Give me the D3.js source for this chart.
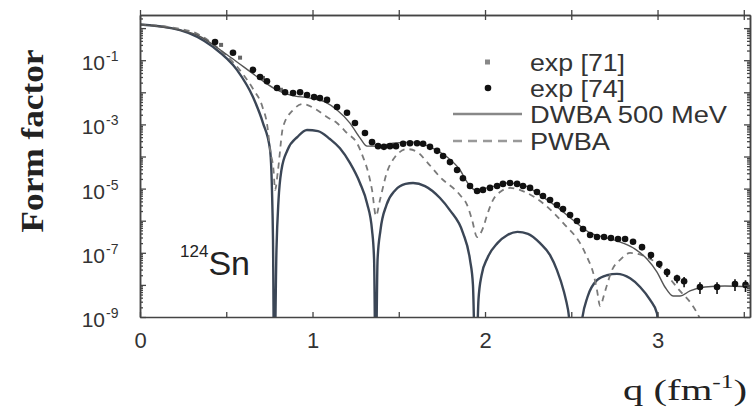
<!DOCTYPE html>
<html>
<head>
<meta charset="utf-8">
<script src="https://cdn.jsdelivr.net/npm/d3@7"></script>
<style>
  body { margin: 0; background: #fff; }
  svg { display: block; }
</style>
</head>
<body>
<div id="chart"></div>
<script>
// ---- values: [q (fm^-1), form factor] ----
const exp71 = [[0.470, 0.30], [0.580, 0.12], [0.713, 2.8e-2], [0.817, 1.2e-2]];

// third entry = relative error (only where error bars are visible)
const exp74 = [
  [0.435, 0.37], [0.539, 0.17], [0.655, 5.0e-2], [0.696, 3.0e-2], [0.736, 2.2e-2], [0.794, 1.36e-2],
  [0.841, 1.0e-2], [0.887, 9.5e-3], [0.928, 1.0e-2], [0.968, 8.2e-3], [1.009, 7.1e-3], [1.043, 6.6e-3],
  [1.084, 5.8e-3], [1.142, 3.5e-3], [1.200, 2.3e-3], [1.246, 1.1e-3], [1.304, 5.4e-4], [1.345, 2.8e-4],
  [1.380, 2.1e-4], [1.414, 2.0e-4], [1.449, 2.1e-4], [1.484, 2.1e-4], [1.525, 2.5e-4], [1.565, 2.6e-4],
  [1.606, 2.6e-4], [1.641, 2.5e-4], [1.681, 2.0e-4], [1.722, 1.5e-4], [1.757, 1.04e-4], [1.797, 6.7e-5],
  [1.838, 3.8e-5], [1.872, 2.1e-5], [1.913, 1.2e-5], [1.954, 8.4e-6], [1.988, 9.1e-6], [2.029, 1.05e-5],
  [2.070, 1.2e-5], [2.104, 1.4e-5], [2.145, 1.5e-5], [2.186, 1.4e-5], [2.220, 1.2e-5], [2.261, 1.05e-5],
  [2.301, 7.8e-6], [2.336, 5.9e-6], [2.377, 4.4e-6], [2.417, 3.1e-6], [2.452, 2.3e-6], [2.493, 1.5e-6],
  [2.533, 9.8e-7], [2.568, 5.5e-7], [2.609, 3.6e-7], [2.649, 3.1e-7], [2.690, 3.1e-7], [2.730, 2.9e-7],
  [2.771, 2.7e-7], [2.812, 2.7e-7], [2.858, 2.2e-7], [2.910, 1.5e-7, 0.2], [2.962, 8.5e-8, 0.25],
  [3.010, 4.5e-8, 0.25], [3.055, 2.5e-8, 0.3], [3.113, 1.6e-8, 0.3], [3.154, 1.3e-8, 0.35],
  [3.246, 8.6e-9, 0.4], [3.345, 8.6e-9, 0.4], [3.449, 1.07e-8, 0.4], [3.510, 1.0e-8, 0.4]
];

const dwba = [
  [0, 1.3], [0.174, 1.0], [0.330, 0.61], [0.522, 0.126], [0.681, 3.0e-2], [0.774, 1.36e-2],
  [0.872, 8.2e-3], [0.986, 6.6e-3], [1.072, 5.0e-3], [1.142, 2.8e-3], [1.217, 1.1e-3], [1.275, 3.8e-4],
  [1.316, 2.1e-4], [1.374, 2.1e-4], [1.467, 2.6e-4], [1.583, 2.8e-4], [1.681, 2.0e-4], [1.780, 9.6e-5],
  [1.855, 3.8e-5], [1.896, 1.6e-5], [1.942, 9.1e-6], [2.029, 1.1e-5], [2.128, 1.5e-5], [2.220, 1.3e-5],
  [2.319, 6.3e-6], [2.417, 2.7e-6], [2.510, 1.05e-6], [2.609, 4.2e-7], [2.707, 2.9e-7], [2.800, 2.0e-7],
  [2.870, 1.3e-7], [2.939, 6.4e-8], [2.997, 2.5e-8], [3.043, 8.6e-9], [3.090, 4.5e-9], [3.130, 4.5e-9],
  [3.188, 6.5e-9], [3.275, 8.6e-9], [3.391, 9.2e-9], [3.536, 8.6e-9]
];

const pwba = [
  [0, 1.3], [0.290, 0.81], [0.464, 0.21], [0.600, 3.5e-2], [0.658, 1.2e-2], [0.710, 3.5e-3],
  [0.739, 8.3e-4], [0.754, 1.6e-4], [0.774, 3.8e-5], [0.783, 9.1e-6], [0.800, 3.8e-5], [0.829, 8.3e-4],
  [0.887, 2.8e-3], [0.945, 4.3e-3], [1.026, 2.8e-3], [1.084, 1.7e-3], [1.142, 1.1e-3], [1.200, 5.4e-4],
  [1.258, 2.6e-4], [1.293, 9.6e-5], [1.322, 3.3e-5], [1.345, 9.1e-6], [1.368, 1.4e-6], [1.391, 4.4e-6],
  [1.432, 3.3e-5], [1.478, 9.6e-5], [1.548, 1.7e-4], [1.606, 1.4e-4], [1.664, 6.7e-5], [1.739, 2.3e-5],
  [1.855, 6.3e-6], [1.896, 3.1e-6], [1.925, 1.05e-6], [1.954, 3.1e-7], [1.988, 5.9e-7], [2.012, 1.5e-6],
  [2.046, 4.4e-6], [2.087, 7.8e-6], [2.145, 1.05e-5], [2.232, 7.8e-6], [2.348, 3.1e-6], [2.464, 7.3e-7],
  [2.551, 2.0e-7], [2.591, 7.4e-8], [2.626, 2.5e-8], [2.649, 6.9e-9], [2.667, 2.2e-9], [2.690, 4.9e-9],
  [2.707, 1.0e-8], [2.736, 2.9e-8], [2.783, 6.0e-8], [2.841, 9.9e-8], [2.910, 8.5e-8], [2.986, 5.1e-8],
  [3.055, 2.0e-8], [3.130, 6.5e-9], [3.200, 2.4e-9], [3.246, 9e-10], [3.275, 4e-10]
];

// dark curve with true diffraction zeros (not in the legend)
const zerosCurve = [
  [0, 1.3], [0.232, 0.87], [0.423, 0.26], [0.562, 5.0e-2], [0.655, 7.1e-3], [0.713, 1.1e-3],
  [0.754, 1.6e-4], [0.765, 9.1e-6], [0.771, 2.5e-7], [0.778, 1e-11],
  [0.791, 1.2e-7], [0.803, 4.4e-6], [0.820, 3.8e-5], [0.855, 1.6e-4], [0.913, 4.1e-4], [0.968, 6.7e-4],
  [1.032, 6.2e-4], [1.101, 3.5e-4], [1.159, 1.8e-4], [1.217, 6.3e-5], [1.275, 1.5e-5], [1.316, 3.5e-6],
  [1.345, 5.1e-7], [1.357, 6.0e-8], [1.366, 1e-11],
  [1.377, 6.0e-8], [1.394, 5.1e-7], [1.429, 3.1e-6], [1.481, 9.1e-6], [1.539, 1.4e-5], [1.583, 1.5e-5],
  [1.652, 1.2e-5], [1.739, 5.1e-6], [1.797, 2.1e-6], [1.872, 4.2e-7], [1.913, 6.0e-8], [1.930, 1.0e-8],
  [1.946, 1e-11],
  [1.962, 3.4e-9], [1.980, 2.0e-8], [2.014, 6.9e-8], [2.072, 2.0e-7], [2.130, 3.6e-7], [2.188, 4.5e-7],
  [2.249, 3.9e-7], [2.319, 2.0e-7], [2.377, 8.5e-8], [2.417, 2.9e-8], [2.458, 6.0e-9], [2.481, 1.7e-9],
  [2.530, 1e-11],
  [2.565, 1.0e-9], [2.594, 4.2e-9], [2.649, 1.4e-8], [2.707, 2.0e-8], [2.765, 2.2e-8], [2.841, 1.6e-8],
  [2.899, 8.6e-9], [2.957, 3.4e-9], [2.997, 1.3e-9], [3.010, 1e-11]
];

const xTickValues = [0, 0.5, 1, 1.5, 2, 2.5, 3, 3.5];
const xTickLabels = [0, 1, 2, 3];
const yLabelPowers = [-1, -3, -5, -7, -9];
const legendLabels = ["exp [71]", "exp [74]", "DWBA 500 MeV", "PWBA"];

// ---- layout ----
const W = 753, H = 414;
const margin = { top: 15, right: 3, bottom: 97, left: 140 };
const width = W - margin.left - margin.right;
const height = H - margin.top - margin.bottom;
const frameColor = "#444";
const sans = "'Liberation Sans', Arial, sans-serif";
const serif = "'Liberation Serif', 'Times New Roman', serif";

const svg = d3.select("#chart").append("svg")
    .attr("width", W)
    .attr("height", H)
    .style("background", "#fff");

const g = svg.append("g")
    .attr("transform", `translate(${margin.left},${margin.top})`);

// scales
const x = d3.scaleLinear().domain([0, 3.536]).range([0, width]);
const y = d3.scaleLog().domain([1e-9, 2.56]).range([height, 0]);

const allTicks = y.ticks();
const majorTicks = allTicks.filter(v => Math.abs(Math.log10(v) - Math.round(Math.log10(v))) < 1e-6);
const minorTicks = allTicks.filter(v => !majorTicks.includes(v));

// clip for the curves
svg.append("defs").append("clipPath").attr("id", "plotClip")
  .append("rect").attr("width", width).attr("height", height);

const plot = g.append("g").attr("clip-path", "url(#plotClip)");

const line = d3.line()
    .x(d => x(d[0]))
    .y(d => y(d[1]))
    .curve(d3.curveMonotoneX);

// dark curve with zeros
plot.append("path")
    .datum(zerosCurve)
    .attr("d", line)
    .attr("fill", "none")
    .attr("stroke", "#3b4656")
    .attr("stroke-width", 2.4);

// PWBA dashed
plot.append("path")
    .datum(pwba)
    .attr("d", line)
    .attr("fill", "none")
    .attr("stroke", "#7a7a7a")
    .attr("stroke-width", 1.8)
    .attr("stroke-dasharray", "6,5");

// DWBA thin solid
plot.append("path")
    .datum(dwba)
    .attr("d", line)
    .attr("fill", "none")
    .attr("stroke", "#555")
    .attr("stroke-width", 1.4);

// exp [71] squares
plot.selectAll(".sq")
    .data(exp71)
    .enter().append("rect")
    .attr("class", "sq")
    .attr("x", d => x(d[0]) - 2)
    .attr("y", d => y(d[1]) - 2)
    .attr("width", 4)
    .attr("height", 4)
    .attr("fill", "#666");

// exp [74] error bars + dots
plot.selectAll(".err")
    .data(exp74.filter(d => d[2]))
    .enter().append("line")
    .attr("class", "err")
    .attr("x1", d => x(d[0]))
    .attr("x2", d => x(d[0]))
    .attr("y1", d => y(d[1] * (1 + d[2])))
    .attr("y2", d => y(d[1] * (1 - d[2])))
    .attr("stroke", "#111")
    .attr("stroke-width", 1.6);

plot.selectAll(".dot")
    .data(exp74)
    .enter().append("circle")
    .attr("class", "dot")
    .attr("cx", d => x(d[0]))
    .attr("cy", d => y(d[1]))
    .attr("r", 3.3)
    .attr("fill", "#111");

// ---- axes / frame ----
function styleAxis(sel) {
    sel.selectAll("path.domain").attr("stroke", frameColor).attr("stroke-width", 1.5);
    sel.selectAll(".tick line").attr("stroke", frameColor).attr("stroke-width", 1.3);
}

// bottom: inward ticks
g.append("g")
    .attr("transform", `translate(0,${height})`)
    .call(d3.axisTop(x).tickValues(xTickValues).tickSize(5).tickSizeOuter(0).tickFormat(""))
    .call(styleAxis);

// bottom labels
g.append("g")
    .attr("transform", `translate(0,${height})`)
    .call(d3.axisBottom(x).tickValues(xTickLabels).tickSize(0).tickPadding(15).tickFormat(d3.format("d")))
    .call(sel => sel.select("path.domain").remove())
    .call(sel => sel.selectAll("text")
        .attr("fill", "#333")
        .style("font-family", sans)
        .style("font-size", "22px"));

// top: ticks crossing the line
g.append("g")
    .call(d3.axisTop(x).tickValues(xTickValues).tickSize(5).tickSizeOuter(0).tickFormat(""))
    .call(styleAxis);
g.append("g")
    .call(d3.axisBottom(x).tickValues(xTickValues).tickSize(5).tickSizeOuter(0).tickFormat(""))
    .call(styleAxis);

// left: inward ticks
g.append("g")
    .call(d3.axisRight(y).tickValues(majorTicks).tickSize(6).tickSizeOuter(0).tickFormat(""))
    .call(styleAxis);
g.append("g")
    .call(d3.axisRight(y).tickValues(minorTicks).tickSize(3).tickSizeOuter(0).tickFormat(""))
    .call(styleAxis);

// right: inward ticks
g.append("g")
    .attr("transform", `translate(${width},0)`)
    .call(d3.axisLeft(y).tickValues(majorTicks).tickSize(6).tickSizeOuter(0).tickFormat(""))
    .call(styleAxis);
g.append("g")
    .attr("transform", `translate(${width},0)`)
    .call(d3.axisLeft(y).tickValues(minorTicks).tickSize(3).tickSizeOuter(0).tickFormat(""))
    .call(styleAxis);

// y labels as 10^n
yLabelPowers.forEach(p => {
    const yy = margin.top + y(Math.pow(10, p));
    svg.append("text")
        .attr("x", 105)
        .attr("y", yy + 10)
        .attr("text-anchor", "end")
        .attr("fill", "#333")
        .style("font-family", sans)
        .style("font-size", "21px")
        .text("10");
    svg.append("text")
        .attr("x", 106)
        .attr("y", yy + 1)
        .attr("fill", "#333")
        .style("font-family", sans)
        .style("font-size", "14px")
        .text(`-${-p}`);
});

// axis titles
svg.append("text")
    .attr("transform", "translate(43,141) rotate(-90)")
    .attr("text-anchor", "middle")
    .attr("fill", "#222")
    .attr("textLength", 183)
    .attr("lengthAdjust", "spacingAndGlyphs")
    .style("font-family", serif)
    .style("font-weight", "bold")
    .style("font-size", "32px")
    .text("Form factor");

const xTitle = svg.append("text")
    .attr("x", 623)
    .attr("y", 400)
    .attr("fill", "#222")
    .attr("textLength", 124)
    .attr("lengthAdjust", "spacingAndGlyphs")
    .style("font-family", serif)
    .style("font-size", "29px");
xTitle.append("tspan").text("q (fm");
xTitle.append("tspan").attr("dy", -12).style("font-size", "18px").text("-1");
xTitle.append("tspan").attr("dy", 12).text(")");

// nucleus label
const nuc = svg.append("text")
    .attr("x", 180)
    .attr("y", 275)
    .attr("fill", "#222")
    .style("font-family", sans);
nuc.append("tspan").attr("dy", -18).style("font-size", "17px").text("124");
nuc.append("tspan").attr("dy", 18).style("font-size", "34px").text("Sn");

// ---- legend ----
const legend = svg.append("g").attr("class", "legend");
const rowY = [62, 88, 114, 141];
const lineX0 = 453, lineX1 = 522, textX = 530;

legend.append("rect")
    .attr("x", 485).attr("y", rowY[0] - 2.5)
    .attr("width", 5).attr("height", 5)
    .attr("fill", "#888");
legend.append("circle")
    .attr("cx", 488).attr("cy", rowY[1])
    .attr("r", 3.3)
    .attr("fill", "#111");
legend.append("line")
    .attr("x1", lineX0).attr("x2", lineX1)
    .attr("y1", rowY[2]).attr("y2", rowY[2])
    .attr("stroke", "#888").attr("stroke-width", 2.6);
legend.append("line")
    .attr("x1", lineX0).attr("x2", lineX1)
    .attr("y1", rowY[3]).attr("y2", rowY[3])
    .attr("stroke", "#999").attr("stroke-width", 2.4)
    .attr("stroke-dasharray", "9,6");

const legendWidths = [95, 95, 197, 80];
legendLabels.forEach((label, i) => {
    legend.append("text")
        .attr("x", textX)
        .attr("y", rowY[i] + 8.5)
        .attr("fill", "#333")
        .attr("textLength", legendWidths[i])
        .attr("lengthAdjust", "spacingAndGlyphs")
        .style("font-family", sans)
        .style("font-size", "24px")
        .text(label);
});
</script>
</body>
</html>
